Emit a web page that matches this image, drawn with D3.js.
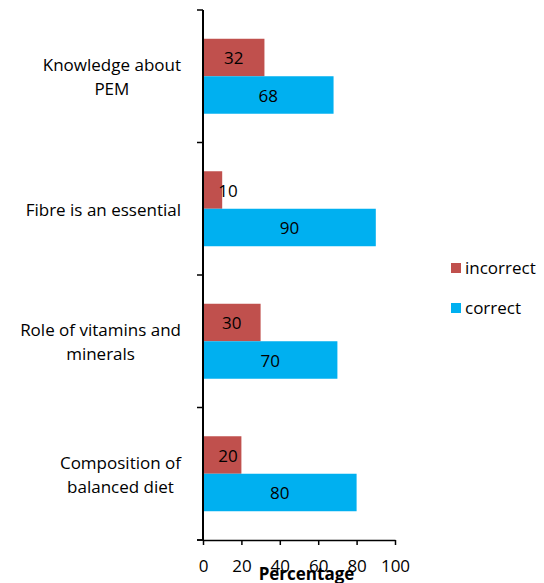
<!DOCTYPE html>
<html>
<head>
<meta charset="utf-8">
<script src="https://cdn.jsdelivr.net/npm/d3@7"></script>
<style>
  html, body { margin: 0; padding: 0; background: #fff; }
  svg { display: block; font-family: "Open Sans", Lato, sans-serif; }
</style>
</head>
<body>
<svg id="chart" width="544" height="583"></svg>
<script>
const categories = ["Knowledge about PEM", "Fibre is an essential", "Role of vitamins and minerals", "Composition of balanced diet"];
const categoryLines = [["Knowledge about", "PEM"], ["Fibre is an essential"], ["Role of vitamins and", "minerals"], ["Composition of", "balanced diet"]];
const seriesNames = ["incorrect", "correct"];
const incorrectValues = [32, 10, 30, 20];
const correctValues = [68, 90, 70, 80];
const xTicks = [0, 20, 40, 60, 80, 100];
const xTitle = "Percentage";
const colors = { incorrect: "#C0504D", correct: "#00B0F0" };

const svg = d3.select("#chart");
const fs = 17;

const x = d3.scaleLinear().domain([0, 100]).range([203, 395]);
const y = d3.scaleBand().domain(categories).range([10, 540]).padding(0);
const ySub = d3.scaleBand().domain(seriesNames).range([0, y.bandwidth()]).paddingInner(0).paddingOuter(0.767);

const rows = categories.map((c, i) => ({ c, incorrect: incorrectValues[i], correct: correctValues[i] }));

// bars
const g = svg.append("g");
rows.forEach(r => {
  seriesNames.forEach(s => {
    g.append("rect")
      .attr("x", x(0))
      .attr("y", y(r.c) + ySub(s))
      .attr("width", x(r[s]) - x(0))
      .attr("height", ySub.bandwidth())
      .attr("fill", colors[s]);
  });
});

// data labels
rows.forEach(r => {
  seriesNames.forEach(s => {
    const cx = Math.max((x(0) + x(r[s])) / 2, x(0) + 25);
    g.append("text")
      .attr("x", cx)
      .attr("y", y(r.c) + ySub(s) + ySub.bandwidth() / 2)
      .attr("dy", "0.4em")
      .attr("text-anchor", "middle")
      .attr("font-size", fs)
      .attr("fill", "#000")
      .text(r[s]);
  });
});

// y axis
const yAxis = svg.append("g");
yAxis.append("line")
  .attr("x1", x(0)).attr("x2", x(0))
  .attr("y1", y.range()[0]).attr("y2", y.range()[1])
  .attr("stroke", "#000").attr("stroke-width", 2);
const bounds = categories.map(c => y(c)).concat([y.range()[1]]);
yAxis.selectAll("line.tick").data(bounds).join("line")
  .attr("class", "tick")
  .attr("x1", x(0) - 6).attr("x2", x(0))
  .attr("y1", d => d).attr("y2", d => d)
  .attr("stroke", "#000").attr("stroke-width", 1.5);

// category labels
categories.forEach((c, i) => {
  const lines = categoryLines[i];
  const grp = svg.append("g");
  const texts = lines.map((ln, j) => grp.append("text")
    .attr("font-size", fs)
    .attr("text-anchor", "middle")
    .attr("fill", "#000")
    .attr("y", y(c) + y.bandwidth() / 2 + (j - (lines.length - 1) / 2) * 24 + 1)
    .attr("dy", "0.35em")
    .text(ln));
  const maxW = d3.max(texts, t => t.node().getComputedTextLength());
  texts.forEach(t => t.attr("x", 181 - maxW / 2));
});

// x axis
const xAxis = svg.append("g")
  .attr("transform", "translate(0,540)")
  .call(d3.axisBottom(x).tickValues(xTicks).tickSize(5).tickPadding(15).tickSizeOuter(0));
xAxis.select(".domain").attr("stroke", "#000").attr("stroke-width", 1.5);
xAxis.selectAll(".tick line").attr("stroke", "#000").attr("stroke-width", 1.5);
xAxis.selectAll(".tick text").attr("font-size", fs).attr("fill", "#000")
  .attr("font-family", "'Open Sans', Lato, sans-serif");
// extend x axis line left to meet y ticks
svg.append("line").attr("x1", x(0) - 6).attr("x2", x(0)).attr("y1", 540).attr("y2", 540)
  .attr("stroke", "#000").attr("stroke-width", 1.5);

svg.append("text")
  .attr("x", 306.5).attr("y", 580)
  .attr("text-anchor", "middle")
  .attr("font-size", fs)
  .attr("font-weight", "bold")
  .attr("fill", "#000")
  .text(xTitle);

// legend
const legendY = { incorrect: 268, correct: 308 };
seriesNames.forEach(s => {
  svg.append("rect")
    .attr("x", 451).attr("y", legendY[s] - 5)
    .attr("width", 10).attr("height", 10)
    .attr("fill", colors[s]);
  svg.append("text")
    .attr("x", 465).attr("y", legendY[s])
    .attr("dy", "0.35em")
    .attr("font-size", fs)
    .attr("fill", "#000")
    .text(s);
});
</script>
</body>
</html>
